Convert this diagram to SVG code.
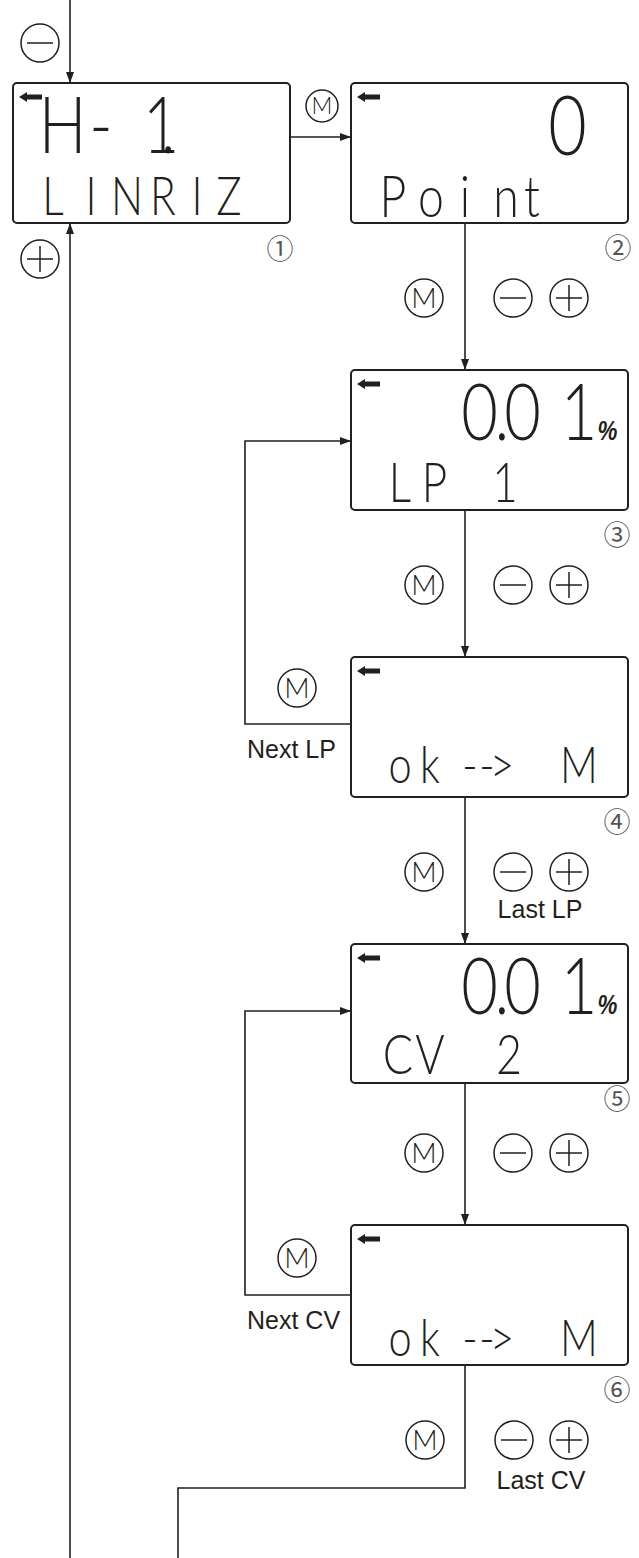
<svg xmlns="http://www.w3.org/2000/svg" width="639" height="1558" viewBox="0 0 639 1558">
<defs>
<style>
.box{fill:#fff;stroke:#231f20;stroke-width:2}
.ln{fill:none;stroke:#231f20;stroke-width:1.6}
.btn{fill:none;stroke:#231f20;stroke-width:1.5}
.bm{font-family:Lato,"Open Sans","Liberation Sans",sans-serif;font-weight:300;font-size:28px;fill:#231f20;text-anchor:middle}
.lbl{font-family:"Liberation Sans",Arial,sans-serif;font-size:25px;fill:#231f20}
.num{font-family:"Noto Sans CJK JP",sans-serif;font-size:27px;fill:#555;text-anchor:middle}
.lcd{font-family:Lato,"Open Sans","DejaVu Sans",sans-serif;font-weight:300;fill:#231f20;text-anchor:middle}
.pct{font-family:"Liberation Sans",Arial,sans-serif;font-weight:bold;font-style:italic;font-size:28px}
</style>
<marker id="ah" markerUnits="userSpaceOnUse" markerWidth="11" markerHeight="8" refX="11" refY="4" orient="auto"><path d="M0,0L11,4L0,8Z" fill="#231f20"/></marker>
<path id="la" d="M0,0L8,-5L8,-2.5L23,-2.5L23,2.5L8,2.5L8,5Z" fill="#231f20"/>
</defs>

<g id="connectors">
<path class="ln" d="M70,0V83" marker-end="url(#ah)"/>
<path class="ln" d="M70,1558V223" marker-end="url(#ah)"/>
<path class="ln" d="M290,137H351" marker-end="url(#ah)"/>
<path class="ln" d="M465,223V370" marker-end="url(#ah)"/>
<path class="ln" d="M465,510V657" marker-end="url(#ah)"/>
<path class="ln" d="M465,797V944" marker-end="url(#ah)"/>
<path class="ln" d="M465,1083V1225" marker-end="url(#ah)"/>
<path class="ln" d="M351,724H245V441H351" marker-end="url(#ah)"/>
<path class="ln" d="M351,1295H245V1011H351" marker-end="url(#ah)"/>
<path class="ln" d="M465,1365V1488H178V1558"/>
</g>

<g id="labels">
<g id="lbl-in-minus"><circle class="btn" cx="40" cy="43" r="19"/><path class="btn" d="M27,43H53"/></g>
<g id="lbl-in-plus"><circle class="btn" cx="40" cy="259" r="19"/><path class="btn" d="M27,259H53M40,246V272"/></g>
<g id="lbl-1-2"><circle class="btn" cx="322" cy="106" r="16"/><text class="bm" x="322" y="114" style="font-size:23px">M</text></g>
<g id="lbl-2-3"><circle class="btn" cx="424" cy="298" r="19"/><text class="bm" x="424" y="308">M</text>
<circle class="btn" cx="513" cy="298" r="19"/><path class="btn" d="M500,298H526"/>
<circle class="btn" cx="569" cy="298" r="19"/><path class="btn" d="M556,298H582M569,285V311"/></g>
<g id="lbl-3-4"><circle class="btn" cx="424" cy="585" r="19"/><text class="bm" x="424" y="595">M</text>
<circle class="btn" cx="513" cy="585" r="19"/><path class="btn" d="M500,585H526"/>
<circle class="btn" cx="569" cy="585" r="19"/><path class="btn" d="M556,585H582M569,572V598"/></g>
<g id="lbl-4-3"><circle class="btn" cx="297" cy="688" r="19"/><text class="bm" x="297" y="698">M</text>
<text class="lbl" x="247" y="758">Next LP</text></g>
<g id="lbl-4-5"><circle class="btn" cx="424" cy="872" r="19"/><text class="bm" x="424" y="882">M</text>
<circle class="btn" cx="513" cy="872" r="19"/><path class="btn" d="M500,872H526"/>
<circle class="btn" cx="569" cy="872" r="19"/><path class="btn" d="M556,872H582M569,859V885"/>
<text class="lbl" x="540" y="918" text-anchor="middle">Last LP</text></g>
<g id="lbl-5-6"><circle class="btn" cx="424" cy="1153" r="19"/><text class="bm" x="424" y="1163">M</text>
<circle class="btn" cx="513" cy="1153" r="19"/><path class="btn" d="M500,1153H526"/>
<circle class="btn" cx="569" cy="1153" r="19"/><path class="btn" d="M556,1153H582M569,1140V1166"/></g>
<g id="lbl-6-5"><circle class="btn" cx="297" cy="1258" r="19"/><text class="bm" x="297" y="1268">M</text>
<text class="lbl" x="247" y="1329">Next CV</text></g>
<g id="lbl-6-out"><circle class="btn" cx="425" cy="1440" r="19"/><text class="bm" x="425" y="1450">M</text>
<circle class="btn" cx="514" cy="1440" r="19"/><path class="btn" d="M501,1440H527"/>
<circle class="btn" cx="569" cy="1440" r="19"/><path class="btn" d="M556,1440H582M569,1427V1453"/>
<text class="lbl" x="541" y="1489" text-anchor="middle">Last CV</text></g>
</g>

<g id="node1">
<rect class="box" x="13" y="83" width="277" height="140" rx="4"/>
<use href="#la" x="19" y="97"/>
<text class="lcd" style="font-size:79px" transform="translate(13 153) scale(0.8 1)" x="62 110 185 194" y="0">H-1.</text>
<text class="lcd" style="font-size:53px" transform="translate(13 215) scale(0.8 1)" x="50 97.5 142.5 187.5 230 270" y="0">LINRIZ</text>
<text class="num" x="280" y="259">①</text>
</g>

<g id="node2">
<rect class="box" x="351" y="83" width="277" height="140" rx="4"/>
<use href="#la" x="357" y="97"/>
<text class="lcd" style="font-size:83px" transform="translate(351 155) scale(0.8 1)" x="270.6" y="0">0</text>
<text class="lcd" style="font-size:58px" transform="translate(351 217) scale(0.8 1)" x="52.5 100 142.5 193.75 226.25" y="0">Point</text>
<text class="num" x="618" y="258">②</text>
</g>

<g id="node3">
<rect class="box" x="351" y="370" width="277" height="140" rx="4"/>
<use href="#la" x="357" y="384"/>
<text class="lcd" style="font-size:79px" transform="translate(351 440) scale(0.8 1)" y="0"><tspan x="160.6 188.75 214.4 285">0.01</tspan><tspan class="pct" x="320.6">%</tspan></text>
<text class="lcd" style="font-size:55px" transform="translate(351 502) scale(0.8 1)" x="61.25 104.4 148.75 192.5" y="0">LP 1</text>
<text class="num" x="617" y="545">③</text>
</g>

<g id="node4">
<rect class="box" x="351" y="657" width="277" height="140" rx="4"/>
<use href="#la" x="357" y="671"/>
<text class="lcd" style="font-size:52px" transform="translate(351 783) scale(0.8 1)" x="61.25 98.75 148.75 170 188.75 236 285" y="0">ok--&gt; M</text>
<text class="num" x="617" y="832">④</text>
</g>

<g id="node5">
<rect class="box" x="351" y="944" width="277" height="139" rx="4"/>
<use href="#la" x="357" y="958"/>
<text class="lcd" style="font-size:79px" transform="translate(351 1014) scale(0.8 1)" y="0"><tspan x="160.6 188.75 214.4 285">0.01</tspan><tspan class="pct" x="320.6">%</tspan></text>
<text class="lcd" style="font-size:56px" transform="translate(351 1074) scale(0.8 1)" x="58.75 98.75 142.5 197.5" y="0">CV 2</text>
<text class="num" x="617" y="1109">⑤</text>
</g>

<g id="node6">
<rect class="box" x="351" y="1225" width="277" height="140" rx="4"/>
<use href="#la" x="357" y="1239"/>
<text class="lcd" style="font-size:52px" transform="translate(351 1356) scale(0.8 1)" x="61.25 98.75 148.75 170 188.75 236 285" y="0">ok--&gt; M</text>
<text class="num" x="617" y="1400">⑥</text>
</g>
</svg>
